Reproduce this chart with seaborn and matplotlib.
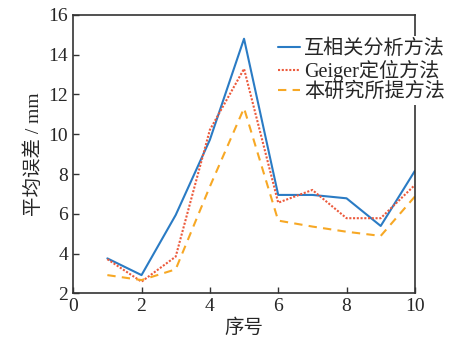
import pandas as pd
import seaborn as sns
import matplotlib.pyplot as plt

# 平均误差 per sample
idx = [1, 2, 3, 4, 5, 6, 7, 8, 9, 10]
xcorr = [3.76, 2.92, 5.94, 9.72, 14.8, 6.95, 6.95, 6.78, 5.39, 8.16]
geiger = [3.72, 2.59, 3.85, 10.22, 13.29, 6.56, 7.2, 5.78, 5.78, 7.45]
ours = [2.92, 2.67, 3.21, 7.37, 11.31, 5.66, 5.36, 5.1, 4.89, 6.87]
names = ["互相关分析方法", "Geiger定位方法", "本研究所提方法"]

sns.set_style("ticks")
plt.rcParams['font.family'] = ['Liberation Serif', 'Noto Sans CJK SC']

fig = plt.figure(figsize=(4.49, 3.46), dpi=100)
ax = fig.add_axes([0.163, 0.152, 0.761, 0.805])

sns.lineplot(x=idx, y=xcorr, ax=ax, color="#2a7bc4", lw=1.5, ls="-", label=names[0])
sns.lineplot(x=idx, y=geiger, ax=ax, color="#ec5a3c", lw=1.5, ls=(0, (1, 0.8)), label=names[1])
sns.lineplot(x=idx, y=ours, ax=ax, color="#f7a825", lw=1.5, ls=(0, (4, 3)), label=names[2])

ax.set_xlim(0, 10)
ax.set_ylim(2, 16)
ax.set_xticks(range(0, 11, 2))
ax.set_yticks(range(2, 17, 2))
ax.tick_params(direction="in", labelsize=14, length=4, width=1, color="#333333")
for s in ax.spines.values():
    s.set_color("#333333")
    s.set_linewidth(1.2)

ax.set_xlabel("序号", fontsize=14, labelpad=2)
ax.set_ylabel("平均误差 / mm", fontsize=14, labelpad=4)

leg = ax.legend(loc="upper left", bbox_to_anchor=(0.612, 0.895), bbox_transform=fig.transFigure,
                fontsize=14.5, handlelength=1.1, handletextpad=0.2, labelspacing=0.05,
                borderpad=0.15, borderaxespad=0, frameon=True, fancybox=False)
leg.get_frame().set_edgecolor("none")
leg.get_frame().set_facecolor("white")
leg.get_frame().set_alpha(1)

fig.savefig("out.png", dpi=100)
